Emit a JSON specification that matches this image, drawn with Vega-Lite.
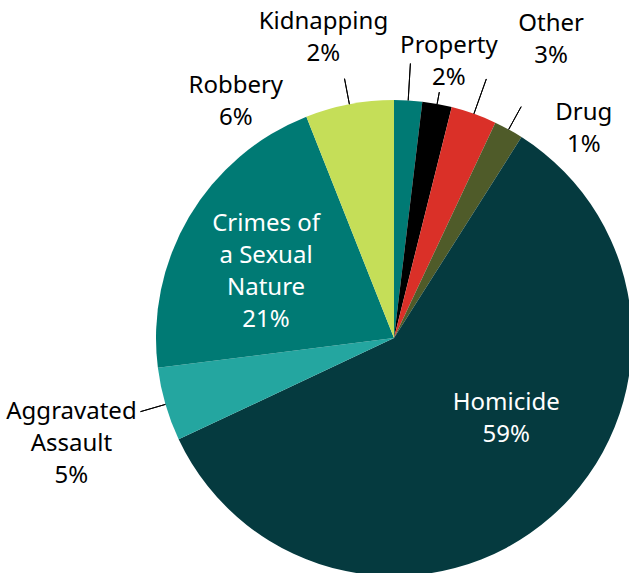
{
  "$schema": "https://vega.github.io/schema/vega-lite/v6.json",
  "width": 470,
  "height": 470,
  "autosize": "none",
  "padding": {"left": 159, "top": 103, "right": 0, "bottom": 0},
  "background": "white",
  "config": {"view": {"stroke": null}, "text": {"font": "Noto Sans"}},
  "data": {
    "values": [
      {"rank": 1, "category": "Kidnapping", "share": 1.9, "label": "Kidnapping\n2%"},
      {"rank": 2, "category": "Property", "share": 2.0, "label": "Property\n2%"},
      {"rank": 3, "category": "Other", "share": 3.1, "label": "Other\n3%"},
      {"rank": 4, "category": "Drug", "share": 2.0, "label": "Drug\n1%"},
      {"rank": 5, "category": "Homicide", "share": 59.0, "label": "Homicide\n59%"},
      {"rank": 6, "category": "Aggravated Assault", "share": 5.0, "label": "Aggravated\nAssault\n5%"},
      {"rank": 7, "category": "Crimes of a Sexual Nature", "share": 21.0, "label": "Crimes of\na Sexual\nNature\n21%"},
      {"rank": 8, "category": "Robbery", "share": 6.0, "label": "Robbery\n6%"}
    ]
  },
  "layer": [
    {
      "mark": {"type": "arc", "radius": 238},
      "encoding": {
        "theta": {"field": "share", "type": "quantitative", "stack": true},
        "order": {"field": "rank", "type": "quantitative"},
        "color": {
          "field": "category", "type": "nominal", "legend": null,
          "scale": {
            "domain": ["Kidnapping", "Property", "Other", "Drug", "Homicide", "Aggravated Assault", "Crimes of a Sexual Nature", "Robbery"],
            "range": ["#007A74", "#000000", "#DA3028", "#4F5B29", "#053A3F", "#24A6A0", "#007A74", "#C5DE58"]
          }
        }
      }
    },
    {
      "transform": [
        {"window": [{"op": "sum", "field": "share", "as": "cum"}], "sort": [{"field": "rank", "order": "ascending"}]},
        {"calculate": "datum.cum - datum.share / 2", "as": "mid"},
        {"filter": "indexof(['Property'], datum.category) >= 0"}
      ],
      "mark": {"type": "arc", "innerRadius": 238, "outerRadius": 250, "filled": false, "color": "black", "strokeWidth": 1},
      "encoding": {
        "theta": {"field": "mid", "type": "quantitative", "stack": null},
        "theta2": {"field": "mid"}
      }
    },
    {
      "transform": [
        {"window": [{"op": "sum", "field": "share", "as": "cum"}], "sort": [{"field": "rank", "order": "ascending"}]},
        {"calculate": "datum.cum - datum.share / 2", "as": "mid"},
        {"filter": "indexof(['Drug', 'Robbery', 'Aggravated Assault'], datum.category) >= 0"}
      ],
      "mark": {"type": "arc", "innerRadius": 238, "outerRadius": 264, "filled": false, "color": "black", "strokeWidth": 1},
      "encoding": {
        "theta": {"field": "mid", "type": "quantitative", "stack": null},
        "theta2": {"field": "mid"}
      }
    },
    {
      "transform": [
        {"window": [{"op": "sum", "field": "share", "as": "cum"}], "sort": [{"field": "rank", "order": "ascending"}]},
        {"calculate": "datum.cum - datum.share / 2", "as": "mid"},
        {"filter": "indexof(['Kidnapping', 'Other'], datum.category) >= 0"}
      ],
      "mark": {"type": "arc", "innerRadius": 238, "outerRadius": 275, "filled": false, "color": "black", "strokeWidth": 1},
      "encoding": {
        "theta": {"field": "mid", "type": "quantitative", "stack": null},
        "theta2": {"field": "mid"}
      }
    },
    {
      "mark": {"type": "text", "radius": 309, "dx": -89, "dy": -8, "fontSize": 24, "lineHeight": 32, "lineBreak": "\n", "align": "center", "baseline": "middle", "color": "black"},
      "encoding": {
        "theta": {"field": "share", "type": "quantitative", "stack": true},
        "order": {"field": "rank", "type": "quantitative"},
        "detail": {"field": "category", "type": "nominal"},
        "text": {"condition": {"test": "datum.category === 'Kidnapping'", "field": "label"}, "value": ""}
      }
    },
    {
      "mark": {"type": "text", "radius": 281, "dx": 4, "dy": -16, "fontSize": 24, "lineHeight": 32, "lineBreak": "\n", "align": "center", "baseline": "middle", "color": "black"},
      "encoding": {
        "theta": {"field": "share", "type": "quantitative", "stack": true},
        "order": {"field": "rank", "type": "quantitative"},
        "detail": {"field": "category", "type": "nominal"},
        "text": {"condition": {"test": "datum.category === 'Property'", "field": "label"}, "value": ""}
      }
    },
    {
      "mark": {"type": "text", "radius": 337, "dx": 44, "dy": 3, "fontSize": 24, "lineHeight": 32, "lineBreak": "\n", "align": "center", "baseline": "middle", "color": "black"},
      "encoding": {
        "theta": {"field": "share", "type": "quantitative", "stack": true},
        "order": {"field": "rank", "type": "quantitative"},
        "detail": {"field": "category", "type": "nominal"},
        "text": {"condition": {"test": "datum.category === 'Other'", "field": "label"}, "value": ""}
      }
    },
    {
      "mark": {"type": "text", "radius": 282, "dx": 54, "dy": 22, "fontSize": 24, "lineHeight": 32, "lineBreak": "\n", "align": "center", "baseline": "middle", "color": "black"},
      "encoding": {
        "theta": {"field": "share", "type": "quantitative", "stack": true},
        "order": {"field": "rank", "type": "quantitative"},
        "detail": {"field": "category", "type": "nominal"},
        "text": {"condition": {"test": "datum.category === 'Drug'", "field": "label"}, "value": ""}
      }
    },
    {
      "mark": {"type": "text", "radius": 138, "dx": 21, "dy": -39, "fontSize": 24, "lineHeight": 32, "lineBreak": "\n", "align": "center", "baseline": "middle", "color": "white"},
      "encoding": {
        "theta": {"field": "share", "type": "quantitative", "stack": true},
        "order": {"field": "rank", "type": "quantitative"},
        "detail": {"field": "category", "type": "nominal"},
        "text": {"condition": {"test": "datum.category === 'Homicide'", "field": "label"}, "value": ""}
      }
    },
    {
      "mark": {"type": "text", "radius": 339, "dx": 3, "dy": -21, "fontSize": 24, "lineHeight": 32, "lineBreak": "\n", "align": "center", "baseline": "middle", "color": "black"},
      "encoding": {
        "theta": {"field": "share", "type": "quantitative", "stack": true},
        "order": {"field": "rank", "type": "quantitative"},
        "detail": {"field": "category", "type": "nominal"},
        "text": {"condition": {"test": "datum.category === 'Aggravated Assault'", "field": "label"}, "value": ""}
      }
    },
    {
      "mark": {"type": "text", "radius": 144, "dx": -4, "dy": -41, "fontSize": 24, "lineHeight": 32, "lineBreak": "\n", "align": "center", "baseline": "middle", "color": "white"},
      "encoding": {
        "theta": {"field": "share", "type": "quantitative", "stack": true},
        "order": {"field": "rank", "type": "quantitative"},
        "detail": {"field": "category", "type": "nominal"},
        "text": {"condition": {"test": "datum.category === 'Crimes of a Sexual Nature'", "field": "label"}, "value": ""}
      }
    },
    {
      "mark": {"type": "text", "radius": 284, "dx": -105, "dy": 27, "fontSize": 24, "lineHeight": 32, "lineBreak": "\n", "align": "center", "baseline": "middle", "color": "black"},
      "encoding": {
        "theta": {"field": "share", "type": "quantitative", "stack": true},
        "order": {"field": "rank", "type": "quantitative"},
        "detail": {"field": "category", "type": "nominal"},
        "text": {"condition": {"test": "datum.category === 'Robbery'", "field": "label"}, "value": ""}
      }
    }
  ]
}
